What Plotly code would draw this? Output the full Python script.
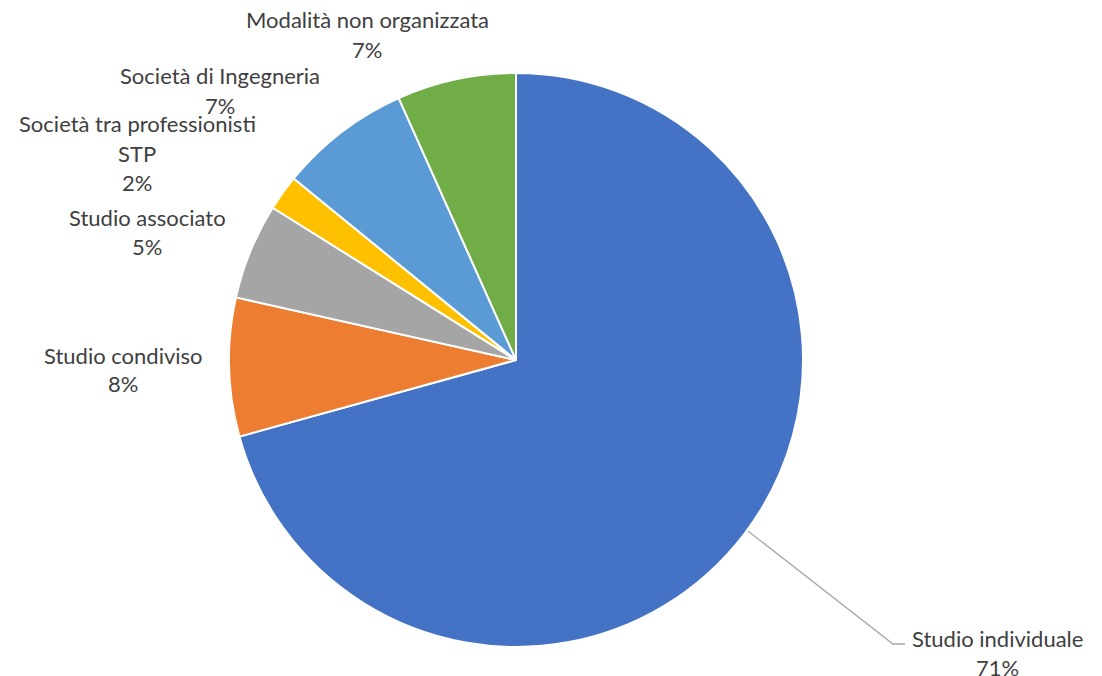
import plotly.graph_objects as go

# dati (quota % per modalità di esercizio)
categorie = ["Studio individuale", "Studio condiviso", "Studio associato",
             "Società tra professionisti<br>STP", "Società di Ingegneria",
             "Modalità non organizzata"]
valori = [70.7, 7.8, 5.4, 2.0, 7.4, 6.7]
colori = ["#4472C4", "#ED7D31", "#A5A5A5", "#FFC000", "#5B9BD5", "#70AD47"]

W, H = 1102, 676
OFF = 8  # margine del body della pagina html

# posizione (pixel) del centro delle etichette, prima riga
pos_etichette = [(997, 638), (123, 355), (147, 217), (137, 124), (220, 76), (367, 20)]
interlinea = 29

cx, cy, r = 516 - OFF, 360 - OFF, 287


def px(x):
    return (x - OFF) / W


def py(y):
    return 1 - (y - OFF) / H


fig = go.Figure()
fig.add_trace(go.Pie(
    labels=[c.replace("<br>", " ") for c in categorie],
    values=valori,
    sort=False,
    direction="clockwise",
    rotation=0,
    marker=dict(colors=colori, line=dict(color="white", width=2)),
    textinfo="none",
    hoverinfo="label+percent",
    showlegend=False,
    domain=dict(x=[(cx - r) / W, (cx + r) / W], y=[(H - cy - r) / H, (H - cy + r) / H]),
))

tot = sum(valori)
for cat, v, (ex, ey) in zip(categorie, valori, pos_etichette):
    righe = cat.split("<br>") + [f"{round(v / tot * 100)}%"]
    for k, riga in enumerate(righe):
        fig.add_annotation(
            text=riga, x=px(ex), y=py(ey + k * interlinea),
            xref="paper", yref="paper", xanchor="center", yanchor="middle",
            showarrow=False, font=dict(family="Lato", size=22, color="#404040"),
        )

# linea di richiamo per "Studio individuale"
fig.add_shape(
    type="path", xref="paper", yref="paper",
    path=f"M {px(748)} {py(531)} L {px(893)} {py(644)} L {px(905)} {py(644)}",
    line=dict(color="#A6A6A6", width=1.3),
)

fig.update_layout(
    width=W, height=H,
    margin=dict(l=0, r=0, t=0, b=0),
    paper_bgcolor="white", plot_bgcolor="white",
)

fig.write_html("out.html")
